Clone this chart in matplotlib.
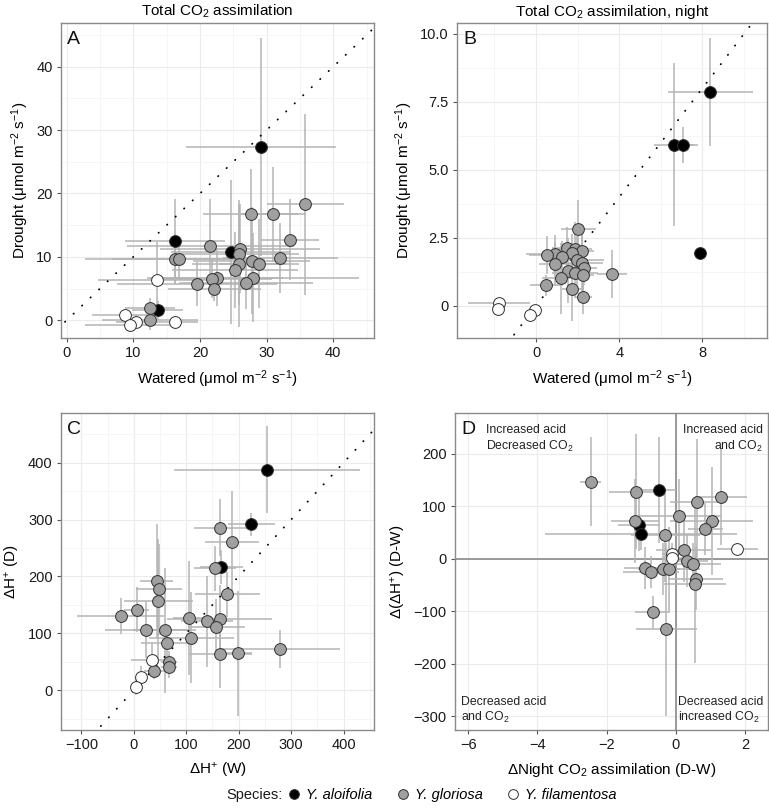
import matplotlib
matplotlib.use("Agg")
import matplotlib.pyplot as plt
from matplotlib.lines import Line2D
from matplotlib.ticker import MultipleLocator

plt.rcParams['font.family'] = ['Liberation Sans', 'DejaVu Sans']
plt.rcParams['mathtext.fontset'] = 'custom'
plt.rcParams['mathtext.rm'] = 'Liberation Sans'
plt.rcParams['mathtext.it'] = 'Liberation Sans:italic'
plt.rcParams['mathtext.default'] = 'regular'

# ---- data: (x, y, xerr, yerr) per species and panel ----
# Panel A: total CO2 assimilation
a_alo_x = [29.15, 16.25, 24.6, 13.65]
a_alo_y = [27.4, 12.5, 10.8, 1.6]
a_alo_xe = [11.2, 7.5, 9.0, 3.8]
a_alo_ye = [17.2, 6.6, 11.4, 1.5]
a_glo_x = [35.8, 27.6, 31.0, 33.5, 21.55, 26.0, 25.9, 16.25, 16.85, 32.05, 27.75,
           28.9, 25.85, 25.25, 22.5, 21.8, 27.9, 19.6, 22.15, 26.9, 12.5, 12.5]
a_glo_y = [18.3, 16.8, 16.7, 12.7, 11.7, 11.3, 10.4, 9.7, 9.7, 9.8, 9.4,
           8.9, 8.9, 7.9, 6.7, 6.5, 6.7, 5.7, 5.0, 5.8, 2.0, 0.0]
a_glo_xe = [5.8, 7.1, 4.9, 4.4, 12.5, 12.0, 9.0, 13.5, 10.0, 8.6, 8.8,
            6.0, 7.0, 9.5, 10.0, 9.0, 15.9, 12.0, 7.0, 10.0, 3.7, 7.2]
a_glo_ye = [14.3, 7.0, 7.5, 6.4, 7.5, 7.0, 8.0, 4.0, 3.0, 5.5, 8.4,
            7.0, 10.0, 6.0, 4.5, 3.0, 7.0, 3.5, 2.0, 4.0, 1.5, 1.5]
a_fil_x = [13.5, 8.75, 10.35, 9.5, 16.3]
a_fil_y = [6.3, 0.8, -0.2, -0.8, -0.3]
a_fil_xe = [8.75, 5.0, 3.0, 6.8, 3.4]
a_fil_ye = [6.0, 1.0, 1.0, 1.0, 1.0]

# Panel B: night CO2 assimilation
b_alo_x = [8.38, 6.62, 7.05, 7.9]
b_alo_y = [7.86, 5.92, 5.92, 1.94]
b_alo_xe = [2.06, 0.96, 0.76, 0.0]
b_alo_ye = [2.0, 3.0, 0.67, 0.0]
b_glo_x = [2.04, 1.47, 1.88, 2.21, 1.75, 0.9, 0.54, 1.27, 1.96, 0.93, 2.2,
           2.31, 1.52, 1.89, 2.28, 3.65, 1.19, 0.5, 1.75, 2.28]
b_glo_y = [2.82, 2.11, 2.08, 2.0, 1.94, 1.91, 1.86, 1.8, 1.67, 1.53, 1.56,
           1.38, 1.29, 1.2, 1.14, 1.18, 1.02, 0.75, 0.61, 0.31]
b_glo_xe = [0.84, 0.7, 0.8, 0.6, 0.5, 1.4, 0.9, 0.6, 1.3, 0.8, 1.0,
            0.6, 0.7, 1.1, 0.5, 0.74, 0.9, 0.8, 0.5, 0.4]
b_glo_ye = [1.07, 0.8, 1.0, 0.9, 0.7, 0.7, 0.7, 0.6, 0.9, 0.8, 1.2,
            0.6, 1.2, 0.9, 0.8, 0.89, 1.3, 0.4, 1.16, 0.6]
b_fil_x = [-1.78, -1.81, -0.06, -0.29]
b_fil_y = [0.1, -0.12, -0.15, -0.33]
b_fil_xe = [1.48, 0.3, 0.2, 0.2]
b_fil_ye = [0.1, 0.1, 0.1, 0.25]

# Panel C: acid accumulation
c_alo_x = [253.7, 223.7, 167.0]
c_alo_y = [388.0, 291.5, 216.0]
c_alo_xe = [177.8, 45.0, 41.0]
c_alo_ye = [77.0, 20.0, 30.0]
c_glo_x = [165, 187.4, 155, 178.6, 43.4, 48.5, 46.5, 5.1, -24.9, 105, 139.6, 163.9,
           157.5, 23, 58.8, 109.8, 62.7, 165, 199.5, 277.9, 67.3, 66.6, 39.2]
c_glo_y = [286, 261, 214, 168.7, 191.7, 177.5, 156, 141.6, 130.4, 127.4, 121.6, 125.7,
           110.3, 106, 105, 92.6, 83, 63.7, 65, 72.5, 49, 41, 34]
c_glo_xe = [50, 51.6, 40, 61.5, 32, 44, 66, 23, 83, 30, 50, 100,
            54, 78, 60, 81, 50, 60, 25, 115, 15, 15, 20]
c_glo_ye = [50, 90, 40, 40, 100, 80, 110, 40, 31, 100, 80, 60,
            50, 50, 110, 80, 30, 60, 110, 34, 20, 20, 15]
c_fil_x = [34.0, 14.3, 4.1]
c_fil_y = [53.0, 22.5, 6.0]
c_fil_xe = [40.0, 10.0, 10.0]
c_fil_ye = [30.0, 20.0, 15.0]

# Panel D: drought minus watered
d_alo_x = [-0.49, -1.06, -1.01]
d_alo_y = [130.6, 65.2, 47.5]
d_alo_xe = [0.5, 0.6, 2.77]
d_alo_ye = [101, 50, 30]
d_glo_x = [-2.46, -1.14, -1.17, -0.3, 0.1, 0.63, 1.3, 1.04, 0.86, 0.23, 0.33,
           0.51, -0.9, -0.71, -0.38, -0.2, 0.58, 0.55, -0.67, -0.27]
d_glo_y = [147, 128, 72, 45, 82, 107.8, 118, 72, 57, 16.5, -3.8,
           -10, -18.4, -25, -19.6, -19.6, -38, -48, -101, -134.4]
d_glo_xe = [0.3, 0.8, 0.7, 1.0, 1.2, 0.8, 0.75, 1.2, 0.5, 0.8, 0.6,
            0.8, 0.6, 0.8, 0.5, 0.9, 0.8, 0.9, 0.5, 0.88]
d_glo_ye = [85, 110, 80, 90, 70, 120, 92, 103, 50, 60, 50,
            40, 40, 30, 50, 80, 60, 150, 30, 165]
d_fil_x = [-0.11, -0.11, 1.78]
d_fil_y = [9.5, 1.3, 18.4]
d_fil_xe = [0.3, 0.3, 0.6]
d_fil_ye = [20, 20, 12]

species = ['Y. aloifolia', 'Y. gloriosa', 'Y. filamentosa']
fills = ['#000000', '#a0a0a0', '#ffffff']

unit = r'($\mu$mol m$^{-2}$ s$^{-1}$)'

fig = plt.figure(figsize=(7.69, 8.10), dpi=100)
axA = fig.add_axes([0.0793, 0.5827, 0.407, 0.389])
axB = fig.add_axes([0.5943, 0.5827, 0.403, 0.389])
axC = fig.add_axes([0.0793, 0.0988, 0.407, 0.391])
axD = fig.add_axes([0.5917, 0.0988, 0.4066, 0.391])


def style(ax, letter):
    ax.set_facecolor('white')
    for s in ax.spines.values():
        s.set_color('#8a8a8a')
        s.set_linewidth(1.0)
    ax.grid(True, which='major', color='#ebebeb', lw=0.8, zorder=0)
    ax.grid(True, which='minor', color='#f4f4f4', lw=0.6, zorder=0)
    ax.set_axisbelow(True)
    ax.tick_params(which='major', length=3, color='#555555', labelsize=10.5,
                   labelcolor='#1a1a1a', pad=3)
    ax.tick_params(which='minor', length=0)
    ax.text(0.02, 0.975, letter, transform=ax.transAxes, fontsize=14,
            va='top', ha='left', color='#111111')


def draw(ax, groups):
    for (x, y, xe, ye), fc in zip(groups, fills):
        ax.errorbar(x, y, xerr=xe, yerr=ye, fmt='none', ecolor='#b4b4b4',
                    elinewidth=1.1, capsize=0, zorder=2)
    for (x, y, xe, ye), fc in zip(groups, fills):
        ax.scatter(x, y, s=72, c=fc, edgecolors='#303030', linewidths=0.7, zorder=4)


def diag(ax):
    lo = min(ax.get_xlim()[0], ax.get_ylim()[0])
    hi = max(ax.get_xlim()[1], ax.get_ylim()[1])
    ax.plot([lo, hi], [lo, hi], color='black', lw=1.3,
            linestyle=(0, (0.2, 6.3)), dash_capstyle='round', zorder=3)


# Panel A
style(axA, 'A')
draw(axA, [(a_alo_x, a_alo_y, a_alo_xe, a_alo_ye),
           (a_glo_x, a_glo_y, a_glo_xe, a_glo_ye),
           (a_fil_x, a_fil_y, a_fil_xe, a_fil_ye)])
axA.set_xlim(-0.85, 46.1)
axA.set_ylim(-2.8, 46.9)
diag(axA)
axA.set_xticks([0, 10, 20, 30, 40])
axA.set_yticks([0, 10, 20, 30, 40])
axA.xaxis.set_minor_locator(MultipleLocator(5))
axA.yaxis.set_minor_locator(MultipleLocator(5))
axA.set_xlabel('Watered ' + unit, fontsize=11, labelpad=6)
axA.set_ylabel('Drought ' + unit, fontsize=11, labelpad=4)
axA.set_title(r'Total CO$_2$ assimilation', fontsize=11, pad=5)

# Panel B
style(axB, 'B')
draw(axB, [(b_alo_x, b_alo_y, b_alo_xe, b_alo_ye),
           (b_glo_x, b_glo_y, b_glo_xe, b_glo_ye),
           (b_fil_x, b_fil_y, b_fil_xe, b_fil_ye)])
axB.set_xlim(-3.8, 11.1)
axB.set_ylim(-1.18, 10.4)
diag(axB)
axB.set_xticks([0, 4, 8])
axB.set_yticks([0, 2.5, 5.0, 7.5, 10.0])
axB.set_yticklabels(['0', '2.5', '5.0', '7.5', '10.0'])
axB.xaxis.set_minor_locator(MultipleLocator(2))
axB.yaxis.set_minor_locator(MultipleLocator(1.25))
axB.set_xlabel('Watered ' + unit, fontsize=11, labelpad=6)
axB.set_ylabel('Drought ' + unit, fontsize=11, labelpad=4)
axB.set_title(r'Total CO$_2$ assimilation, night', fontsize=11, pad=5)

# Panel C
style(axC, 'C')
draw(axC, [(c_alo_x, c_alo_y, c_alo_xe, c_alo_ye),
           (c_glo_x, c_glo_y, c_glo_xe, c_glo_ye),
           (c_fil_x, c_fil_y, c_fil_xe, c_fil_ye)])
axC.set_xlim(-139, 458)
axC.set_ylim(-70, 487)
diag(axC)
axC.set_xticks([-100, 0, 100, 200, 300, 400])
axC.set_yticks([0, 100, 200, 300, 400])
axC.xaxis.set_minor_locator(MultipleLocator(50))
axC.yaxis.set_minor_locator(MultipleLocator(50))
axC.set_xlabel(r'$\Delta$H$^{+}$ (W)', fontsize=11, labelpad=6)
axC.set_ylabel(r'$\Delta$H$^{+}$ (D)', fontsize=11, labelpad=4)

# Panel D
style(axD, 'D')
axD.axhline(0, color='#8a8a8a', lw=1.2, zorder=1)
axD.axvline(0, color='#8a8a8a', lw=1.2, zorder=1)
draw(axD, [(d_alo_x, d_alo_y, d_alo_xe, d_alo_ye),
           (d_glo_x, d_glo_y, d_glo_xe, d_glo_ye),
           (d_fil_x, d_fil_y, d_fil_xe, d_fil_ye)])
axD.set_xlim(-6.38, 2.66)
axD.set_ylim(-326, 277)
axD.set_xticks([-6, -4, -2, 0, 2])
axD.set_yticks([-300, -200, -100, 0, 100, 200])
axD.set_xlabel(r'$\Delta$Night CO$_2$ assimilation (D-W)', fontsize=11, labelpad=6)
axD.set_ylabel(r'$\Delta$($\Delta$H$^{+}$) (D-W)', fontsize=11, labelpad=4)
qkw = dict(fontsize=8.8, color='#222222', linespacing=1.2)
axD.text(0.1, 0.965, 'Increased acid\nDecreased CO$_2$', transform=axD.transAxes,
         ha='left', va='top', **qkw)
axD.text(0.985, 0.965, 'Increased acid\nand CO$_2$', transform=axD.transAxes,
         ha='right', va='top', multialignment='right', **qkw)
axD.text(0.02, 0.015, 'Decreased acid\nand CO$_2$', transform=axD.transAxes,
         ha='left', va='bottom', **qkw)
axD.text(0.985, 0.015, 'Decreased acid\nincreased CO$_2$', transform=axD.transAxes,
         ha='right', va='bottom', multialignment='left', **qkw)

# legend
fig.text(226 / 769, 0.019, 'Species:', fontsize=10.5, ha='left', va='center',
         color='#1a1a1a')
handles = []
for fc in fills:
    handles.append(Line2D([], [], linestyle='none', marker='o', markersize=7,
                          markerfacecolor=fc, markeredgecolor='#303030',
                          markeredgewidth=0.7))
leg = fig.legend(handles, species, loc='center left',
                 bbox_to_anchor=(290 / 769, 0.019), ncol=3, frameon=False,
                 fontsize=10.5, handlelength=0.6, handletextpad=0.5,
                 columnspacing=1.8, borderaxespad=0, borderpad=0)
for t in leg.get_texts():
    t.set_style('italic')

fig.savefig('out.png', dpi=100)
